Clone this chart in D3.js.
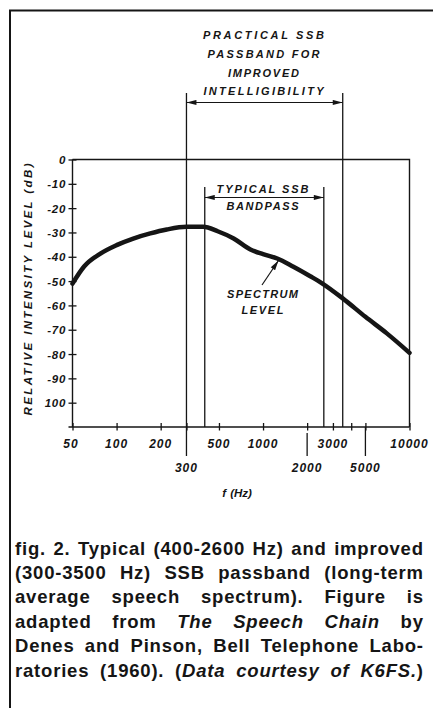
<!DOCTYPE html>
<html>
<head>
<meta charset="utf-8">
<script src="https://cdn.jsdelivr.net/npm/d3@7"></script>
<style>
  html, body { margin: 0; padding: 0; background: #fff; }
  svg { display: block; }
  .lettering { font-family: "Liberation Sans", Arial, sans-serif; font-style: italic; font-weight: bold; fill: #151515; }
  .caption { font-family: "Liberation Sans", Arial, sans-serif; font-weight: bold; font-size: 18.5px; letter-spacing: 0.8px; fill: #151515; }
</style>
</head>
<body>
<svg id="fig" width="433" height="708"></svg>
<script>
// Long-term average speech spectrum (relative intensity level vs frequency)
const freqHz  = [50, 60, 78, 100, 130, 170, 220, 300, 390, 490, 630, 820, 1000, 1250, 1600, 2100, 2500, 3500, 5000, 7000, 10000];
const levelDb = [-51, -44, -38.6, -35.2, -32.5, -30.4, -28.8, -27.7, -27.7, -29.5, -32.5, -37, -38.9, -40.7, -44, -48, -50.7, -57.1, -64.7, -71.5, -79.5];

// Passband edges (Hz)
const typicalBand  = [400, 2600];
const improvedBand = [300, 3500];

// Axis ticks
const yTickValues = [0, -10, -20, -30, -40, -50, -60, -70, -80, -90, -100];
const yTickLabels = ["0", "-10", "-20", "-30", "-40", "-50", "-60", "-70", "-80", "-90", "100"];
const xTickValues = [50, 100, 200, 300, 500, 1000, 2000, 3000, 4000, 5000, 10000];
const xLabelsUpper = [50, 100, 200, 500, 1000, 3000, 10000];
const xLabelsLower = [300, 2000, 5000];

// Text
const yTitle = "RELATIVE  INTENSITY  LEVEL  (dB)";
const xTitle = "f (Hz)";
const improvedLabel = ["PRACTICAL  SSB", "PASSBAND  FOR", "IMPROVED", "INTELLIGIBILITY"];
const typicalLabel = ["TYPICAL  SSB", "BANDPASS"];
const curveLabel = ["SPECTRUM", "LEVEL"];
const captionLines = [
  [["fig. 2. Typical (400-2600 Hz) and improved", false]],
  [["(300-3500 Hz) SSB passband (long-term", false]],
  [["average speech spectrum). Figure is", false]],
  [["adapted from ", false], ["The Speech Chain", true], [" by", false]],
  [["Denes and Pinson, Bell Telephone Labo-", false]],
  [["ratories (1960). (", false], ["Data courtesy of K6FS.", true], [")", false]]
];

const svg = d3.select("#fig");
const ink = "#151515";

const x = d3.scaleLog().domain([50, 10000]).range([72.5, 409.5]);
const y = d3.scaleLinear().domain([0, -110]).range([159.5, 427]);

// page frame (left and top rules)
svg.append("path")
  .attr("d", "M10,708 V10.5 H433")
  .attr("fill", "none").attr("stroke", ink).attr("stroke-width", 2);

// plot box: top (0 dB) and right (10 kHz) edges
svg.append("path")
  .attr("d", `M${x(50)},${y(0)} H${x(10000)} V${y(-110)}`)
  .attr("fill", "none").attr("stroke", ink).attr("stroke-width", 1.4);

// left axis
const yAxis = svg.append("g")
  .attr("transform", `translate(${x(50)},0)`)
  .call(d3.axisLeft(y).tickValues(yTickValues).tickSize(4).tickSizeOuter(0)
    .tickFormat((d, i) => yTickLabels[i]));
yAxis.select(".domain").attr("d", `M0,${y(0)} V${y(-110)}`).attr("stroke", ink).attr("stroke-width", 1.4);
yAxis.selectAll(".tick line").attr("x1", 4).attr("stroke", ink).attr("stroke-width", 1.3);
yAxis.selectAll(".tick text")
  .attr("class", "lettering").attr("x", -6.5).attr("dy", "0.36em")
  .style("font-size", "11.5px").style("letter-spacing", "0.7px");

// bottom axis
const xAxis = svg.append("g")
  .attr("transform", `translate(0,${y(-110)})`)
  .call(d3.axisBottom(x).tickValues(xTickValues).tickSize(3.5).tickSizeOuter(0).tickFormat(""));
xAxis.select(".domain").attr("d", `M${x(50) - 4},0 H${x(10000)}`).attr("stroke", ink).attr("stroke-width", 1.4);
xAxis.selectAll(".tick line").attr("y1", -4).attr("stroke", ink).attr("stroke-width", 1.3);

// long leaders for the lower row of labels
xAxis.selectAll(".leader").data(xLabelsLower).join("line")
  .attr("x1", d => x(d)).attr("x2", d => x(d))
  .attr("y1", d => d === 2000 ? 6 : 0).attr("y2", 29)
  .attr("stroke", ink).attr("stroke-width", 1.3);

xAxis.selectAll(".lab-up").data(xLabelsUpper).join("text")
  .attr("class", "lettering")
  .attr("x", d => x(d) + (d === 50 ? -1.5 : 0)).attr("y", 21)
  .attr("text-anchor", "middle").style("font-size", "12px").style("letter-spacing", "1px")
  .text(d => d);
xAxis.selectAll(".lab-lo").data(xLabelsLower).join("text")
  .attr("class", "lettering")
  .attr("x", d => x(d)).attr("y", 44.5)
  .attr("text-anchor", "middle").style("font-size", "12px").style("letter-spacing", "1px")
  .text(d => d);

svg.append("text").attr("class", "lettering")
  .attr("x", 237).attr("y", 496.5).attr("text-anchor", "middle")
  .style("font-size", "11.5px").style("word-spacing", "1px")
  .text(xTitle);

// y title
svg.append("text").attr("class", "lettering")
  .attr("transform", "translate(31.5,289.5) rotate(-90)")
  .attr("text-anchor", "middle")
  .attr("textLength", 252).attr("lengthAdjust", "spacing")
  .style("font-size", "11.5px")
  .text(yTitle);

// arrowheads
const defs = svg.append("defs");
defs.append("marker").attr("id", "head")
  .attr("viewBox", "0 0 10 6").attr("refX", 10).attr("refY", 3)
  .attr("markerWidth", 11).attr("markerHeight", 6)
  .attr("markerUnits", "userSpaceOnUse").attr("orient", "auto-start-reverse")
  .append("path").attr("d", "M0,0.4 L10,3 L0,5.6 Z").attr("fill", ink);

// improved passband: boundary lines and dimension arrow
svg.selectAll(".imp-edge").data(improvedBand).join("line")
  .attr("x1", d => x(d)).attr("x2", d => x(d))
  .attr("y1", 93).attr("y2", y(-110))
  .attr("stroke", ink).attr("stroke-width", 1.3);
svg.append("line")
  .attr("x1", x(improvedBand[0])).attr("x2", x(improvedBand[1]))
  .attr("y1", 102.5).attr("y2", 102.5)
  .attr("stroke", ink).attr("stroke-width", 1.2)
  .attr("marker-start", "url(#head)").attr("marker-end", "url(#head)");
const impWidths = [121, 112, 71, 120];
svg.selectAll(".imp-lab").data(improvedLabel).join("text")
  .attr("class", "lettering")
  .attr("x", 263.5).attr("y", (d, i) => 39 + i * 18.8)
  .attr("text-anchor", "middle")
  .attr("textLength", (d, i) => impWidths[i]).attr("lengthAdjust", "spacing")
  .style("font-size", "11px")
  .text(d => d);

// typical passband
svg.selectAll(".typ-edge").data(typicalBand).join("line")
  .attr("x1", d => x(d)).attr("x2", d => x(d))
  .attr("y1", 187).attr("y2", y(-110))
  .attr("stroke", ink).attr("stroke-width", 1.3);
svg.append("line")
  .attr("x1", x(typicalBand[0])).attr("x2", x(typicalBand[1]))
  .attr("y1", 197.5).attr("y2", 197.5)
  .attr("stroke", ink).attr("stroke-width", 1.2)
  .attr("marker-start", "url(#head)").attr("marker-end", "url(#head)");
const typWidths = [92, 72];
svg.selectAll(".typ-lab").data(typicalLabel).join("text")
  .attr("class", "lettering")
  .attr("x", 262.5).attr("y", (d, i) => 193.3 + i * 16.7)
  .attr("text-anchor", "middle")
  .attr("textLength", (d, i) => typWidths[i]).attr("lengthAdjust", "spacing")
  .style("font-size", "11px")
  .text(d => d);

// spectrum curve
const line = d3.line().x((d, i) => x(freqHz[i])).y(d => y(d)).curve(d3.curveMonotoneX);
svg.append("path")
  .attr("d", line(levelDb))
  .attr("fill", "none").attr("stroke", ink).attr("stroke-width", 4.5)
  .attr("stroke-linecap", "round").attr("stroke-linejoin", "round");

// curve annotation
svg.append("line")
  .attr("x1", 262).attr("y1", 285).attr("x2", 278.5).attr("y2", 260.5)
  .attr("stroke", ink).attr("stroke-width", 1.2)
  .attr("marker-end", "url(#head)");
const curveWidths = [71, 42];
svg.selectAll(".crv-lab").data(curveLabel).join("text")
  .attr("class", "lettering")
  .attr("x", 262.5).attr("y", (d, i) => 298 + i * 16)
  .attr("text-anchor", "middle")
  .attr("textLength", (d, i) => curveWidths[i]).attr("lengthAdjust", "spacing")
  .style("font-size", "11px")
  .text(d => d);

// justified caption
const capLeft = 15, capRight = 423, capTop = 554.5, capStep = 24.4;
captionLines.forEach((segs, li) => {
  // split into words, keeping italic runs
  const words = [];
  let cur = [];
  segs.forEach(([txt, it]) => {
    const parts = txt.split(" ");
    parts.forEach((p, pi) => {
      if (pi > 0) { if (cur.length) words.push(cur); cur = []; }
      if (p.length) cur.push([p, it]);
    });
  });
  if (cur.length) words.push(cur);

  const gY = capTop + li * capStep;
  const nodes = words.map(w => {
    const t = svg.append("text").attr("class", "caption").attr("y", gY);
    w.forEach(([p, it]) => t.append("tspan").style("font-style", it ? "italic" : "normal").text(p));
    return t;
  });
  // trailing letter-spacing of the last glyph is not part of the visible width
  const widths = nodes.map(n => n.node().getComputedTextLength() - 0.8);
  const total = d3.sum(widths);
  const gap = words.length > 1 ? (capRight - capLeft - total) / (words.length - 1) : 0;
  let cx = capLeft;
  nodes.forEach((n, i) => { n.attr("x", cx); cx += widths[i] + gap; });
});
</script>
</body>
</html>
